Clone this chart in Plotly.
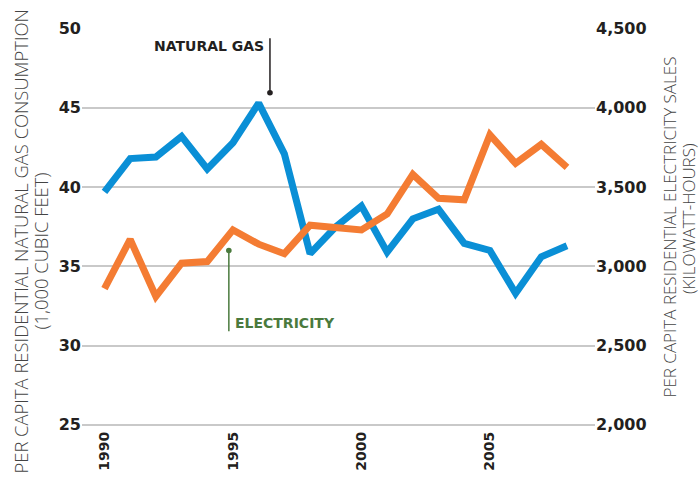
import plotly.graph_objects as go

years = list(range(1990, 2009))
natural_gas = [39.7, 41.8, 41.9, 43.2, 41.15, 42.8, 45.3, 42.1, 35.8, 37.5, 38.8,
               35.9, 38.0, 38.6, 36.45, 36.0, 33.3, 35.6, 36.3]
electricity = [2860, 3170, 2810, 3020, 3030, 3230, 3140, 3080, 3260, 3240, 3230,
               3330, 3580, 3430, 3420, 3830, 3650, 3770, 3625]

left_ticks = [25, 30, 35, 40, 45, 50]
right_ticks = [2000, 2500, 3000, 3500, 4000, 4500]
x_ticks = [1990, 1995, 2000, 2005]

left_title = ["PER CAPITA RESIDENTIAL NATURAL GAS CONSUMPTION", "(1,000 CUBIC FEET)"]
right_title = ["PER CAPITA RESIDENTIAL ELECTRICITY SALES", "(KILOWATT-HOURS)"]

BLUE = "#0a8fd6"
ORANGE = "#f47c33"
GREEN = "#4a7a3d"
DARK = "#231f20"
TICKFONT = "DejaVu Sans"
TITLEFONT = "Open Sans"

W, H = 700, 478
L, R, T, B = 82, 105, 28, 50
PW, PH = W - L - R, H - T - B


def px(xpix):
    return (xpix - L) / PW


def py(ypix):
    return (H - B - ypix) / PH


fig = go.Figure()
fig.add_trace(go.Scatter(x=years, y=electricity, yaxis="y2", mode="lines",
                         line=dict(color=ORANGE, width=7), name="Electricity"))
fig.add_trace(go.Scatter(x=years, y=natural_gas, yaxis="y", mode="lines",
                         line=dict(color=BLUE, width=7), name="Natural gas"))

# annotation leader lines
fig.add_shape(type="line", x0=1996.44, x1=1996.44, y0=49.4, y1=45.95, xref="x", yref="y",
              line=dict(color=DARK, width=1.5))
fig.add_shape(type="circle", x0=1996.44 - 0.11, x1=1996.44 + 0.11, y0=45.95 - 0.17, y1=45.95 + 0.17,
              xref="x", yref="y", fillcolor=DARK, line=dict(width=0))
fig.add_shape(type="line", x0=1994.84, x1=1994.84, y0=36.0, y1=30.9, xref="x", yref="y",
              line=dict(color=GREEN, width=1.5))
fig.add_shape(type="circle", x0=1994.84 - 0.11, x1=1994.84 + 0.11, y0=36.0 - 0.17, y1=36.0 + 0.17,
              xref="x", yref="y", fillcolor=GREEN, line=dict(width=0))

fig.add_annotation(x=1996.3, y=48.9, xref="x", yref="y", text="<b>NATURAL GAS</b>",
                   showarrow=False, xanchor="right", yanchor="middle",
                   font=dict(family=TICKFONT, size=14, color=DARK))
fig.add_annotation(x=1995.0, y=31.4, xref="x", yref="y", text="<b>ELECTRICITY</b>",
                   showarrow=False, xanchor="left", yanchor="middle",
                   font=dict(family=TICKFONT, size=14, color=GREEN))

# axis titles (rotated text, one annotation per line)
title_specs = [
    (left_title[0], 20, 241.5, 18.4),
    (left_title[1], 39.5, 251, 18.4),
    (right_title[0], 669, 227.5, 17.0),
    (right_title[1], 688, 219, 17.0),
]
for txt, xp, yp, sz in title_specs:
    fig.add_annotation(x=px(xp), y=py(yp), xref="paper", yref="paper", text=txt,
                       textangle=-90, showarrow=False, xanchor="center", yanchor="middle",
                       font=dict(family=TITLEFONT, size=sz, color="#444", weight=300))

fig.update_layout(
    width=W, height=H,
    margin=dict(l=L, r=R, t=T, b=B, autoexpand=False),
    paper_bgcolor="white", plot_bgcolor="white",
    showlegend=False,
    xaxis=dict(range=[1989.125, 2009.09], tickvals=x_ticks, ticktext=[str(t) for t in x_ticks],
               tickangle=-90, showgrid=False, zeroline=False, showline=False, automargin=False,
               tickfont=dict(family=TICKFONT, size=14, color=DARK, weight="bold"), ticks=""),
    yaxis=dict(range=[24.8, 50.04], tickvals=left_ticks, showgrid=True, gridcolor="#c9c9c9",
               gridwidth=1.5, zeroline=False, showline=False, ticks="", automargin=False,
               tickfont=dict(family=TICKFONT, size=16, color=DARK, weight="bold")),
    yaxis2=dict(range=[1980, 4504], tickvals=right_ticks, tickformat=",", overlaying="y",
                side="right", showgrid=False, zeroline=False, showline=False, ticks="", automargin=False,
                tickfont=dict(family=TICKFONT, size=16, color=DARK, weight="bold")),
)

fig.write_html("out.html", config={"displayModeBar": False},
               post_script="document.body.style.margin='0';")
